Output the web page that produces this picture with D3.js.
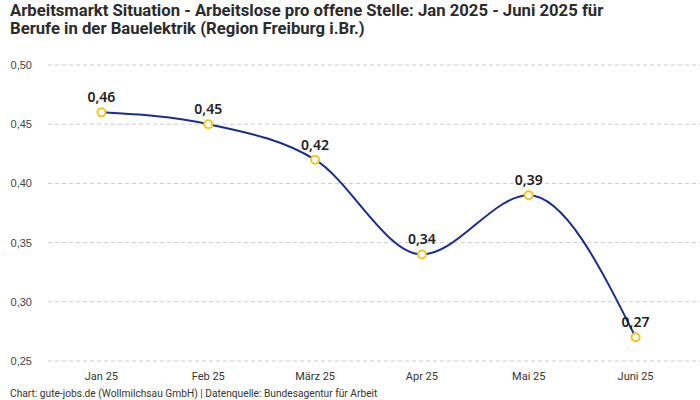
<!DOCTYPE html>
<html>
<head>
<meta charset="utf-8">
<script src="https://cdn.jsdelivr.net/npm/d3@7"></script>
<style>
  body { margin: 0; background: #fff; }
  svg { display: block; }
</style>
</head>
<body>
<svg id="chart" width="700" height="400"></svg>
<script>
// data
var months = ["Jan 25", "Feb 25", "März 25", "Apr 25", "Mai 25", "Juni 25"];
var values = [0.46, 0.45, 0.42, 0.34, 0.39, 0.27];
var yTicks = [0.25, 0.30, 0.35, 0.40, 0.45, 0.50];
var titleLines = ["Arbeitsmarkt Situation - Arbeitslose pro offene Stelle: Jan 2025 - Juni 2025 für",
                  "Berufe in der Bauelektrik (Region Freiburg i.Br.)"];
var footer = "Chart: gute-jobs.de (Wollmilchsau GmbH) | Datenquelle: Bundesagentur für Arbeit";

var fmt = function(v){ return v.toFixed(2).replace(".", ","); };

const svg = d3.select("#chart");
const margin = {top: 65, right: 0, bottom: 39, left: 48},
  width = 700 - margin.left - margin.right,
  height = 400 - margin.top - margin.bottom;

/** title */
svg.selectAll(".title").data(titleLines).join("text")
  .attr("class", "title")
  .attr("x", 10)
  .attr("y", (d, i) => 16 + i * 18)
  .attr("font-family", "Roboto, sans-serif")
  .attr("font-weight", "bold")
  .attr("font-size", 16.7)
  .attr("fill", "#2b2b2b")
  .text(d => d);

var g = svg.append("g").attr("transform", `translate(${margin.left},${margin.top})`);

const x = d3.scalePoint().domain(months).range([0, 641]).padding(0.5);
const y = d3.scaleLinear().domain([0.25, 0.50]).range([296, 0]);

/** grid lines + y labels */
g.selectAll(".grid").data(yTicks).join("line")
  .attr("class", "grid")
  .attr("x1", 0).attr("x2", width)
  .attr("y1", d => y(d)).attr("y2", d => y(d))
  .attr("stroke", "#ccc")
  .attr("stroke-dasharray", "4,3");

g.selectAll(".ylab").data(yTicks).join("text")
  .attr("class", "ylab")
  .attr("x", -16)
  .attr("y", d => y(d) + 4)
  .attr("text-anchor", "end")
  .attr("font-family", "Liberation Sans, Arial, sans-serif")
  .attr("font-size", 11)
  .attr("fill", "#444")
  .text(d => fmt(d));

/** x labels */
g.selectAll(".xlab").data(months).join("text")
  .attr("class", "xlab")
  .attr("x", d => x(d))
  .attr("y", 296 + 19)
  .attr("text-anchor", "middle")
  .attr("font-family", "Roboto, sans-serif")
  .attr("font-size", 11)
  .attr("fill", "#333")
  .text(d => d);

/** the line */
var pts = months.map((m, i) => [m, values[i]]);
g.append("path")
  .datum(pts)
  .attr("fill", "none")
  .attr("stroke", "#1a2c8f")
  .attr("stroke-width", 2)
  .attr("d", d3.line().curve(d3.curveMonotoneX)
    .x(d => x(d[0])).y(d => y(d[1])));

g.selectAll(".dot").data(pts).join("circle")
  .attr("class", "dot")
  .attr("cx", d => x(d[0])).attr("cy", d => y(d[1]))
  .attr("r", 4)
  .attr("fill", "#fff")
  .attr("stroke", "#f9c31f")
  .attr("stroke-width", 2);

g.selectAll(".vlab").data(pts).join("text")
  .attr("class", "vlab")
  .attr("x", d => x(d[0]))
  .attr("y", d => y(d[1]) - 10)
  .attr("text-anchor", "middle")
  .attr("font-family", "Noto Sans, sans-serif")
  .attr("font-weight", 600)
  .attr("font-size", 14)
  .attr("fill", "#222")
  .text(d => fmt(d[1]));

/** footer */
svg.append("text")
  .attr("x", 10).attr("y", 397)
  .attr("font-family", "Roboto, sans-serif")
  .attr("font-size", 10.2)
  .attr("fill", "#333")
  .text(footer);
</script>
</body>
</html>
